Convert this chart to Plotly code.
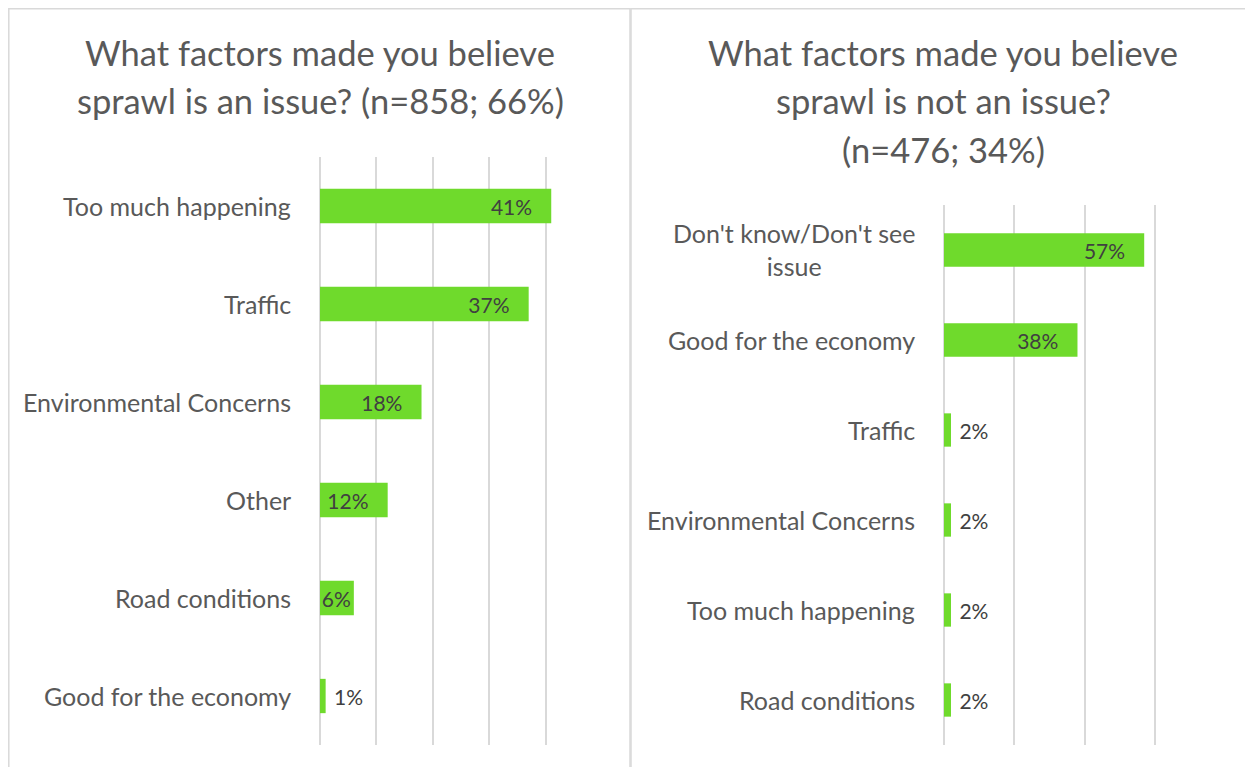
import plotly.graph_objects as go

left_categories = ["Too much happening", "Traffic", "Environmental Concerns", "Other",
                   "Road conditions", "Good for the economy"]
left_values = [41, 37, 18, 12, 6, 1]

right_categories = ["Don't know/Don't see<br>issue", "Good for the economy", "Traffic",
                    "Environmental Concerns", "Too much happening", "Road conditions"]
right_values = [57, 38, 2, 2, 2, 2]

left_title_lines = ["What factors made you believe", "sprawl is an issue? (n=858; 66%)"]
right_title_lines = ["What factors made you believe", "sprawl is not an issue?", "(n=476; 34%)"]

BAR = "#6FDA2C"
GRID = "#D9D9D9"
LABEL = "#595959"
DATA = "#404040"
FONT = "Lato, 'Open Sans', sans-serif"

W, H = 1253, 767
OX, OY = 8, 8  # page body margin


def px(x):
    return (x - OX) / W


def py(y):
    return 1 - (y - OY) / H


NB = "\u00a0"


def positions(vals):
    return ["inside" if v >= 5 else "outside" for v in vals]


def templates(vals):
    out = []
    for v in vals:
        if v >= 10:
            out.append("%{x}%" + NB * 3)
        elif v >= 5:
            out.append("%{x}%")
        else:
            out.append(NB + "%{x}%")
    return out


fig = go.Figure()
for cats, vals, xa, ya, w in [(left_categories, left_values, "x", "y", 0.35),
                              (right_categories, right_values, "x2", "y2", 0.37)]:
    fig.add_trace(go.Bar(
        y=cats, x=vals, orientation="h", xaxis=xa, yaxis=ya,
        marker=dict(color=BAR, line=dict(width=0)), width=w,
        texttemplate=templates(vals), textposition=positions(vals),
        insidetextanchor="end", constraintext="none", cliponaxis=False, textangle=0,
        textfont=dict(family=FONT, size=21, color=DATA),
        insidetextfont=dict(family=FONT, size=21, color=DATA),
        outsidetextfont=dict(family=FONT, size=21, color=DATA),
        showlegend=False, hoverinfo="skip"))

common_x = dict(showgrid=True, gridcolor=GRID, gridwidth=1.5, zeroline=True,
                zerolinecolor=GRID, zerolinewidth=1.5, showticklabels=False,
                ticks="", showline=False, fixedrange=True)
common_y = dict(autorange="reversed", showgrid=False, zeroline=False, ticks="",
                showline=False, showticklabels=False, fixedrange=True)

annotations = []
for lines, xc in [(left_title_lines, 320), (right_title_lines, 943)]:
    for i, line in enumerate(lines):
        annotations.append(dict(
            text=line, xref="paper", yref="paper", x=px(xc), y=py(52 + 49 * i),
            xanchor="center", yanchor="middle", showarrow=False,
            font=dict(family=FONT, size=34.5, color=LABEL)))
for cats, ya, xend in [(left_categories, "y", 293), (right_categories, "y2", 917)]:
    for c in cats:
        annotations.append(dict(
            text=c, xref="paper", yref=ya, x=px(xend), y=c, xanchor="right",
            yanchor="middle", align="center", showarrow=False,
            font=dict(family=FONT, size=25, color=LABEL)))

fig.update_layout(
    width=W, height=H,
    margin=dict(l=0, r=0, t=0, b=0),
    paper_bgcolor="white", plot_bgcolor="white",
    xaxis=dict(domain=[px(320), px(602)], range=[0, 50], dtick=10, **common_x),
    yaxis=dict(domain=[py(745), py(157)], anchor="x", **common_y),
    xaxis2=dict(domain=[px(944), px(1225)], range=[0, 80], dtick=20, anchor="y2", **common_x),
    yaxis2=dict(domain=[py(745), py(205)], anchor="x2", **common_y),
    font=dict(family=FONT),
    shapes=[
        dict(type="rect", xref="paper", yref="paper", x0=0.8 / W, x1=px(630),
             y0=-0.02, y1=1 - 0.8 / H, line=dict(color=GRID, width=1.5), layer="below"),
        dict(type="rect", xref="paper", yref="paper", x0=px(631), x1=1.02,
             y0=-0.02, y1=1 - 0.8 / H, line=dict(color=GRID, width=1.5), layer="below"),
    ],
    annotations=annotations,
)

fig.write_html("out.html")
